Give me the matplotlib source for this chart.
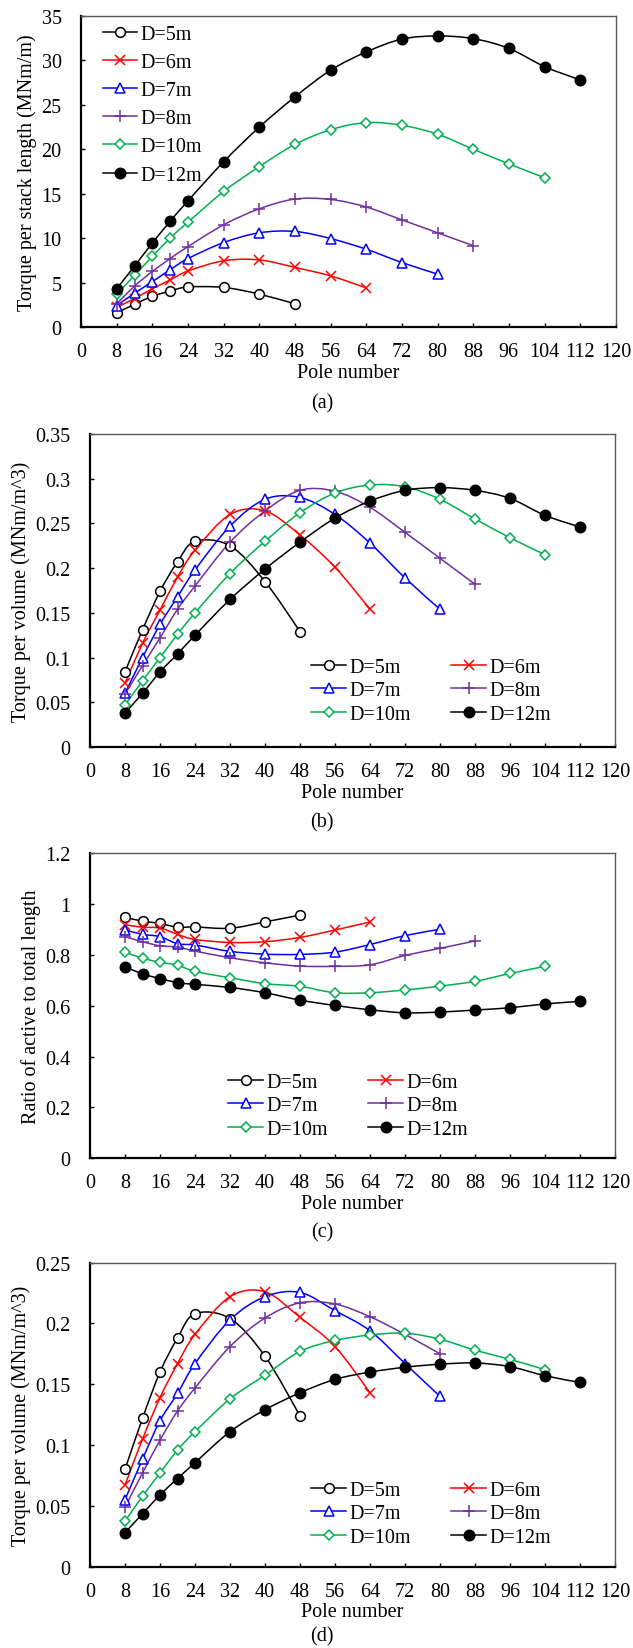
import numpy as np
import matplotlib
matplotlib.use("Agg")
from matplotlib import pyplot as plt
from matplotlib.path import Path
from matplotlib.patches import PathPatch
from matplotlib.lines import Line2D

plt.rcParams['font.family'] = ['Liberation Serif', 'DejaVu Serif']
plt.rcParams['font.size'] = 14.5

# pole numbers for each diameter
poles_5 = [8, 12, 16, 20, 24, 32, 40, 48]
poles_6 = poles_5 + [56, 64]
poles_7 = poles_6 + [72, 80]
poles_8 = poles_7 + [88]
poles_10 = poles_8 + [96, 104]
poles_12 = poles_10 + [112]

labels = ["D=5m", "D=6m", "D=7m", "D=8m", "D=10m", "D=12m"]
colors = ["black", "#FF0000", "#0000FF", "#7030A0", "#00B050", "black"]
markers = ["o", "x", "^", "+", "D", "o"]
filled = [False, True, False, True, False, True]
msizes = [7, 7.5, 7.5, 8.5, 5, 7.5]

# (a) torque per stack length (MNm/m)
torque_len = [
    [1.6, 2.55, 3.45, 4.05, 4.5, 4.45, 3.7, 2.6],
    [2.2, 3.2, 4.3, 5.3, 6.3, 7.45, 7.55, 6.7, 5.75, 4.4],
    [2.4, 3.8, 5.1, 6.45, 7.7, 9.5, 10.6, 10.75, 9.95, 8.75, 7.25, 5.95],
    [2.6, 4.6, 6.25, 7.7, 9.05, 11.5, 13.3, 14.4, 14.35, 13.5, 12.05, 10.6, 9.15],
    [3.7, 5.8, 7.95, 10.0, 11.8, 15.25, 18.05, 20.55, 22.2, 23.0, 22.7, 21.7, 20.0, 18.35, 16.8],
    [4.3, 6.85, 9.45, 11.9, 14.2, 18.6, 22.5, 25.9, 28.9, 30.95, 32.4, 32.75, 32.45, 31.35, 29.3, 27.8],
]

# (b) torque per volume (MNm/m^3)
torque_vol_b = [
    [0.084, 0.131, 0.174, 0.207, 0.230, 0.225, 0.185, 0.129],
    [0.071, 0.116, 0.153, 0.190, 0.220, 0.260, 0.264, 0.237, 0.201, 0.154],
    [0.060, 0.100, 0.137, 0.168, 0.198, 0.247, 0.277, 0.279, 0.260, 0.228, 0.189, 0.154],
    [0.059, 0.091, 0.122, 0.154, 0.180, 0.229, 0.264, 0.287, 0.286, 0.268, 0.240, 0.211, 0.182],
    [0.047, 0.074, 0.100, 0.126, 0.150, 0.194, 0.230, 0.262, 0.284, 0.293, 0.291, 0.277, 0.255, 0.234, 0.215],
    [0.038, 0.060, 0.084, 0.104, 0.125, 0.165, 0.199, 0.229, 0.256, 0.275, 0.287, 0.290, 0.287, 0.278, 0.259, 0.246],
]

# (c) ratio of active to total length
ratio = [
    [0.948, 0.933, 0.924, 0.909, 0.910, 0.905, 0.930, 0.957],
    [0.919, 0.909, 0.906, 0.881, 0.861, 0.849, 0.852, 0.869, 0.898, 0.930],
    [0.899, 0.881, 0.872, 0.844, 0.839, 0.814, 0.803, 0.802, 0.811, 0.841, 0.876, 0.901],
    [0.872, 0.852, 0.836, 0.831, 0.815, 0.789, 0.769, 0.756, 0.755, 0.761, 0.798, 0.826, 0.855],
    [0.811, 0.787, 0.771, 0.760, 0.735, 0.710, 0.687, 0.676, 0.651, 0.651, 0.662, 0.677, 0.696, 0.727, 0.755],
    [0.754, 0.725, 0.707, 0.691, 0.684, 0.672, 0.651, 0.622, 0.601, 0.584, 0.572, 0.575, 0.583, 0.592, 0.607, 0.617],
]

# (d) torque per volume (MNm/m^3)
torque_vol_d = [
    [0.080, 0.122, 0.160, 0.188, 0.208, 0.204, 0.173, 0.124],
    [0.067, 0.105, 0.139, 0.167, 0.191, 0.222, 0.226, 0.205, 0.181, 0.143],
    [0.055, 0.0885, 0.120, 0.1425, 0.167, 0.203, 0.222, 0.2255, 0.2105, 0.194, 0.167, 0.140],
    [0.049, 0.077, 0.104, 0.128, 0.147, 0.181, 0.2045, 0.217, 0.216, 0.2055, 0.191, 0.175],
    [0.0375, 0.058, 0.077, 0.096, 0.111, 0.138, 0.1575, 0.177, 0.186, 0.1905, 0.192, 0.187, 0.178, 0.1705, 0.162],
    [0.028, 0.0435, 0.059, 0.0725, 0.0855, 0.111, 0.129, 0.143, 0.154, 0.160, 0.164, 0.1665, 0.1675, 0.1645, 0.157, 0.1515],
]

poles_a = [poles_5, poles_6, poles_7, poles_8, poles_10, poles_12]
poles_d = [poles_5, poles_6, poles_7, poles_7, poles_10, poles_12]


def smooth_path(x, y):
    # excel-like smoothed line: catmull-rom converted to cubic bezier
    x = np.asarray(x, float)
    y = np.asarray(y, float)
    verts = [(x[0], y[0])]
    codes = [Path.MOVETO]
    n = len(x)
    for i in range(n - 1):
        x0, y0 = (x[i - 1], y[i - 1]) if i > 0 else (x[i], y[i])
        x3, y3 = (x[i + 2], y[i + 2]) if i + 2 < n else (x[i + 1], y[i + 1])
        c1 = (x[i] + (x[i + 1] - x0) / 6, y[i] + (y[i + 1] - y0) / 6)
        c2 = (x[i + 1] - (x3 - x[i]) / 6, y[i + 1] - (y3 - y[i]) / 6)
        verts += [c1, c2, (x[i + 1], y[i + 1])]
        codes += [Path.CURVE4] * 3
    return Path(verts, codes)


def draw_panel(ax, xs_list, ys_list, ylim, yticks, yfmt, ylabel):
    for k in range(6):
        xs, ys = xs_list[k], ys_list[k]
        ax.add_patch(PathPatch(smooth_path(xs, ys), facecolor="none",
                               edgecolor=colors[k], lw=1.1, zorder=2))
        ax.plot(xs, ys, ls="none", marker=markers[k], ms=msizes[k],
                color=colors[k], mfc=colors[k] if filled[k] else "white",
                mew=1.1, zorder=3)
    ax.set_xlim(0, 120)
    ax.set_ylim(*ylim)
    ax.set_xticks(np.arange(0, 121, 8))
    ax.set_yticks(yticks)
    ax.set_yticklabels([yfmt(v) for v in yticks])
    ax.tick_params(direction="in", length=3, width=1)
    ax.tick_params(axis="y", pad=14)
    ax.tick_params(axis="x", pad=11)
    for s in ["left", "bottom"]:
        ax.spines[s].set_linewidth(1.6)
        ax.spines[s].set_color("black")
    for s in ["top", "right"]:
        ax.spines[s].set_linewidth(1.0)
        ax.spines[s].set_color("#595959")
    ax.set_xlabel("Pole number", labelpad=1)
    ax.set_ylabel(ylabel, labelpad=3)


def handles(order):
    return [Line2D([], [], color=colors[k], marker=markers[k], ms=msizes[k],
                   mfc=colors[k] if filled[k] else "white", mew=1.1, lw=1.1)
            for k in order]


def fmt_plain(v):
    s = ("%.2f" % v).rstrip("0").rstrip(".")
    return s


# column-first fill order for the two-column legends
two_col = [0, 2, 4, 1, 3, 5]
leg2 = dict(loc="upper left", ncol=2, frameon=False, borderpad=0,
            borderaxespad=0, handlelength=1.75, handletextpad=0.15,
            labelspacing=0.22, columnspacing=2.0)

fig = plt.figure(figsize=(6.33, 16.49), dpi=100)

ax_a = fig.add_axes([0.128, 0.8011, 0.845, 0.1886])
draw_panel(ax_a, poles_a, torque_len, (0, 35), np.arange(0, 36, 5),
           lambda v: "%d" % v, "Torque per stack length (MNm/m)")
ax_a.legend(handles(range(6)), labels, loc="upper left",
            bbox_to_anchor=(0.041, 0.972), frameon=False, borderpad=0,
            borderaxespad=0, handlelength=1.7, handletextpad=0.15,
            labelspacing=0.45)

ax_b = fig.add_axes([0.1422, 0.5464, 0.8294, 0.1898])
draw_panel(ax_b, poles_a, torque_vol_b, (0, 0.35), np.arange(0, 0.351, 0.05),
           fmt_plain, "Torque per volume (MNm/m^3)")
ax_b.legend(handles(two_col), [labels[k] for k in two_col],
            bbox_to_anchor=(0.421, 0.285), **leg2)

ax_c = fig.add_axes([0.1422, 0.2971, 0.8294, 0.1848])
draw_panel(ax_c, poles_a, ratio, (0, 1.2), np.arange(0, 1.21, 0.2),
           fmt_plain, "Ratio of active to total length")
ax_c.legend(handles(two_col), [labels[k] for k in two_col],
            bbox_to_anchor=(0.263, 0.281), **leg2)

ax_d = fig.add_axes([0.1422, 0.0493, 0.8294, 0.1844])
draw_panel(ax_d, poles_d, torque_vol_d, (0, 0.25), np.arange(0, 0.251, 0.05),
           fmt_plain, "Torque per volume (MNm/m^3)")
ax_d.legend(handles(two_col), [labels[k] for k in two_col],
            bbox_to_anchor=(0.421, 0.283), **leg2)

fig.text(0.509, 1 - 404 / 1649, "(a)", ha="center", va="center")
fig.text(0.509, 1 - 823 / 1649, "(b)", ha="center", va="center")
fig.text(0.509, 1 - 1233 / 1649, "(c)", ha="center", va="center")
fig.text(0.509, 1 - 1637 / 1649, "(d)", ha="center", va="center")

fig.savefig("out.png", dpi=100)
